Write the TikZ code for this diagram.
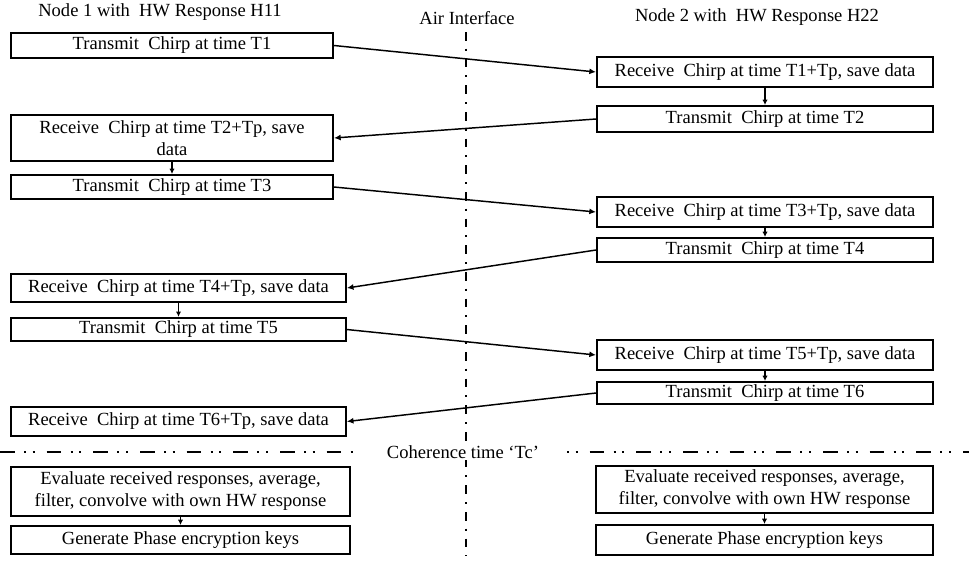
\documentclass[tikz,border=0pt]{standalone}
\usepackage{fontspec}
\setmainfont{Liberation Serif}
\usetikzlibrary{arrows.meta}

\tikzset{
  box/.style={draw, line width=1.5pt, inner sep=0pt, align=center,
    font=\fontsize{13.9}{16.5}\selectfont},
  lbl/.style={inner sep=1pt, font=\fontsize{13.9}{16.5}\selectfont},
  msg/.style={line width=1.1pt, -{Latex[length=5pt,width=4.5pt]}},
  nxt/.style={line width=1.1pt, -{Latex[length=4pt,width=4pt]}},
  airline/.style={line width=1.5pt, dash pattern=on 6.5pt off 6pt on 1.5pt off 6pt},
  tcline/.style={line width=1.5pt, dash pattern=on 11pt off 7pt on 1.5pt off 5pt on 1.5pt off 9pt}
}

\begin{document}
\begin{tikzpicture}[x=0.75pt,y=-0.75pt]
    \useasboundingbox (0,0) rectangle (969,562);
    \node[lbl] (n1) at (160,12) {Node 1 with~ HW Response H11};
    \node[lbl] (air) at (467,18) {Air Interface};
    \node[lbl] (n2) at (757,17) {Node 2 with~ HW Response H22};

    \coordinate (airtop) at (466,32);
    \coordinate (airbot) at (466,556);
    \draw[airline] (airtop) -- (airbot);
    \coordinate (tcl) at (0,452);
    \coordinate (tcl2) at (358,452);
    \coordinate (tcr2) at (567,452);
    \coordinate (tcr) at (969,452);
    \draw[tcline] (tcl) -- (tcl2);
    \draw[tcline, dash phase=18pt] (tcr2) -- (tcr);
    \node[lbl, fill=white, inner xsep=4pt] (tc) at (463,452) {Coherence time `Tc'};

    \node[box, minimum width=241.5pt, minimum height=19pt] (tx1) at (172,45.5) {Transmit~ Chirp at time T1};
    \node[box, minimum width=241.5pt, minimum height=34.5pt] (rx2) at (172,138) {Receive~ Chirp at time T2+Tp, save\\data};
    \node[box, minimum width=241.5pt, minimum height=18pt] (tx3) at (172,187) {Transmit~ Chirp at time T3};
    \node[box, minimum width=251pt, minimum height=21pt] (rx4) at (178.5,288) {Receive~ Chirp at time T4+Tp, save data};
    \node[box, minimum width=251pt, minimum height=17.5pt] (tx5) at (178.5,329.5) {Transmit~ Chirp at time T5};
    \node[box, minimum width=251pt, minimum height=22pt] (rx6) at (178.5,421.5) {Receive~ Chirp at time T6+Tp, save data};
    \node[box, minimum width=254pt, minimum height=37pt] (ev1) at (180.5,491.5) {Evaluate received responses, average,\\filter, convolve with own HW response};
    \node[box, minimum width=254pt, minimum height=21pt] (key1) at (180.5,540) {Generate Phase encryption keys};

    \node[box, minimum width=252pt, minimum height=22.5pt] (rx1) at (765,72) {Receive~ Chirp at time T1+Tp, save data};
    \node[box, minimum width=252pt, minimum height=19.5pt] (tx2) at (765,119) {Transmit~ Chirp at time T2};
    \node[box, minimum width=252pt, minimum height=22.5pt] (rx3) at (765,212) {Receive~ Chirp at time T3+Tp, save data};
    \node[box, minimum width=252pt, minimum height=18pt] (tx4) at (765,250) {Transmit~ Chirp at time T4};
    \node[box, minimum width=252pt, minimum height=22.5pt] (rx5) at (765,355) {Receive~ Chirp at time T5+Tp, save data};
    \node[box, minimum width=252pt, minimum height=16.5pt] (tx6) at (765,393) {Transmit~ Chirp at time T6};
    \node[box, minimum width=253pt, minimum height=35pt] (ev2) at (764.5,489.5) {Evaluate received responses, average,\\filter, convolve with own HW response};
    \node[box, minimum width=253pt, minimum height=22.5pt] (key2) at (764.5,540) {Generate Phase encryption keys};

    \draw[msg] (tx1.east) -- (rx1.west);
    \draw[msg] (tx2.west) -- (rx2.east);
    \draw[msg] (tx3.east) -- (rx3.west);
    \draw[msg] (tx4.west) -- (rx4.east);
    \draw[msg] (tx5.east) -- (rx5.west);
    \draw[msg] (tx6.west) -- (rx6.east);

    \draw[nxt] (rx1) -- (tx2);
    \draw[nxt] (rx2) -- (tx3);
    \draw[nxt] (rx3) -- (tx4);
    \draw[nxt] (rx4) -- (tx5);
    \draw[nxt] (rx5) -- (tx6);
    \draw[nxt] (ev1) -- (key1);
    \draw[nxt] (ev2) -- (key2);
\end{tikzpicture}
\end{document}
